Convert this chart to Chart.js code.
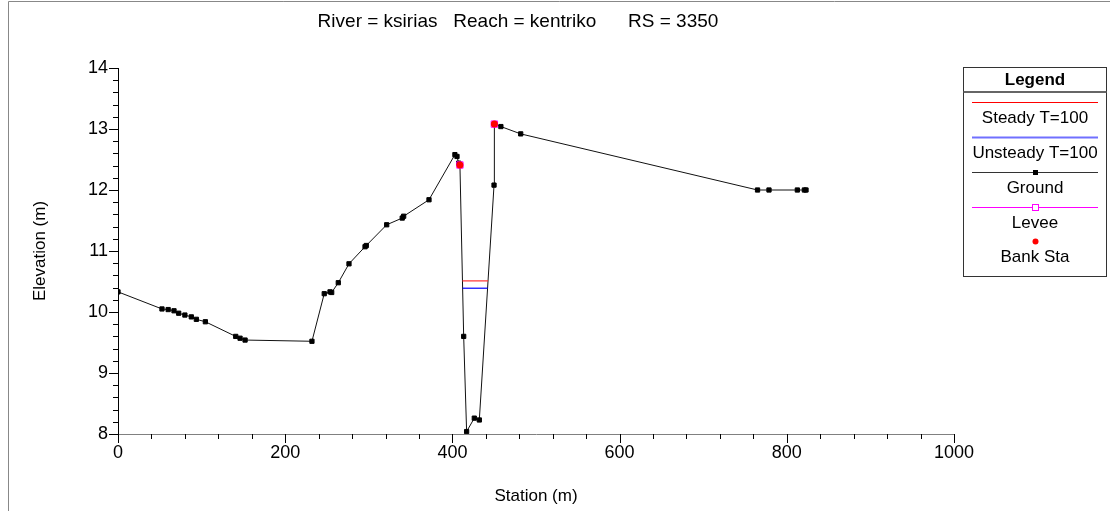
<!DOCTYPE html>
<html>
<head>
<meta charset="utf-8">
<script src="https://cdn.jsdelivr.net/npm/chart.js@4"></script>
<style>
  body { margin: 0; background: #fff; }
  canvas { display: block; }
</style>
</head>
<body>
<canvas id="xs" width="1110" height="511"></canvas>
<script>
// cross section: station (m) against elevation (m)
let groundSta = [0, 52.6, 60, 67, 72.6, 80, 87.7, 93.7, 104.5, 140.8, 146, 152, 232,
    246.7, 253.6, 255.6, 263.5, 276.3, 295.5, 297, 321.4, 340, 341.7, 372,
    403, 405.5, 407.5, 409, 413.5, 417, 426.2, 432.2, 449.8, 450.2, 458, 481.7,
    765, 778.7, 812.6, 821, 823]
let groundElev = [10.33, 10.05, 10.04, 10.02, 9.98, 9.95, 9.92, 9.88, 9.84, 9.60, 9.57, 9.54, 9.52,
    10.30, 10.33, 10.32, 10.48, 10.79, 11.07, 11.09, 11.43, 11.54, 11.57, 11.84,
    12.58, 12.55, 12.44, 12.41, 9.60, 8.04, 8.26, 8.23, 12.08, 13.08, 13.04, 12.92,
    12.0, 12.0, 12.0, 12.0, 12.0]

let bankSta = [409, 450.2]
let bankElev = [12.41, 13.08]

let steadySta = [412.0, 442.6]
let steadyElev = [10.51, 10.51]
let unsteadySta = [412.2, 442.1]
let unsteadyElev = [10.39, 10.39]

let xTicks = [0, 200, 400, 600, 800, 1000]
let yTicks = [8, 9, 10, 11, 12, 13, 14]

let titleText = 'River = ksirias   Reach = kentriko      RS = 3350'
let font = "'Liberation Sans', Arial, sans-serif"
let textSize = 17

function pts(xs, ys) {
    return xs.map((x, i) => ({ x: x, y: ys[i] }))
}

// title, minor/major ticks, legend box and panel frame
let decorations = {
    id: 'decorations',
    afterDraw(chart) {
        let ctx = chart.ctx
        let sx = chart.scales.x, sy = chart.scales.y
        let area = chart.chartArea
        ctx.save()

        ctx.strokeStyle = '#888'
        ctx.lineWidth = 1
        ctx.beginPath()
        ctx.moveTo(8.5, 511)
        ctx.lineTo(8.5, 1.5)
        ctx.lineTo(1110, 1.5)
        ctx.stroke()

        ctx.fillStyle = '#000'
        ctx.font = '19px ' + font
        ctx.textAlign = 'center'
        ctx.textBaseline = 'middle'
        ctx.fillText(titleText, 518, 22)

        ctx.strokeStyle = '#000'
        ctx.beginPath()
        let xMajor = xTicks[1] - xTicks[0]
        for (let v = xTicks[0]; v <= xTicks[xTicks.length - 1] + 0.001; v += xMajor / 5) {
            let px = Math.round(sx.getPixelForValue(v)) + 0.5
            let major = Math.abs(v / xMajor - Math.round(v / xMajor)) < 1e-6
            ctx.moveTo(px, area.bottom)
            ctx.lineTo(px, area.bottom + (major ? 9 : 5))
        }
        let yMajor = yTicks[1] - yTicks[0]
        for (let v = yTicks[0]; v <= yTicks[yTicks.length - 1] + 0.001; v += yMajor / 5) {
            let py = Math.round(sy.getPixelForValue(v)) + 0.5
            let major = Math.abs(v / yMajor - Math.round(v / yMajor)) < 1e-6
            ctx.moveTo(area.left, py)
            ctx.lineTo(area.left - (major ? 9 : 5), py)
        }
        ctx.stroke()

        // legend
        let lx = 963.5, ly = 67.5, lw = 143, lh = 209
        ctx.fillStyle = '#fff'
        ctx.fillRect(lx, ly, lw, lh)
        ctx.strokeStyle = '#333'
        ctx.strokeRect(lx, ly, lw, lh)
        ctx.strokeStyle = '#666'
        ctx.lineWidth = 2
        ctx.beginPath()
        ctx.moveTo(lx, 92)
        ctx.lineTo(lx + lw, 92)
        ctx.stroke()
        ctx.fillStyle = '#000'
        ctx.font = 'bold ' + textSize + 'px ' + font
        ctx.fillText('Legend', 1035, 80)

        let cx = 1035, x0 = 972, x1 = 1098
        let entries = [
            { label: 'Steady T=100', color: '#ff0000', line: true, y: 102 },
            { label: 'Unsteady T=100', color: '#7070ff', line: true, y: 137, width: 2 },
            { label: 'Ground', color: '#333', line: true, marker: 'square', y: 172 },
            { label: 'Levee', color: '#ff00ff', line: true, marker: 'open', y: 207 },
            { label: 'Bank Sta', color: '#ff0000', line: false, marker: 'dot', y: 241 }
        ]
        ctx.font = textSize + 'px ' + font
        entries.forEach(e => {
            if (e.line) {
                ctx.strokeStyle = e.color
                ctx.lineWidth = e.width || 1
                ctx.beginPath()
                ctx.moveTo(x0, e.y + 0.5)
                ctx.lineTo(x1, e.y + 0.5)
                ctx.stroke()
            }
            if (e.marker === 'square') {
                ctx.fillStyle = '#000'
                ctx.fillRect(cx - 2, e.y - 2, 5, 5)
            } else if (e.marker === 'open') {
                ctx.fillStyle = '#fff'
                ctx.fillRect(cx - 2.5, e.y - 2.5, 6, 6)
                ctx.strokeStyle = e.color
                ctx.lineWidth = 1
                ctx.strokeRect(cx - 2.5, e.y - 2.5, 6, 6)
            } else if (e.marker === 'dot') {
                ctx.fillStyle = e.color
                ctx.beginPath()
                ctx.arc(cx + 0.5, e.y + 0.5, 3, 0, Math.PI * 2)
                ctx.fill()
            }
            ctx.fillStyle = '#000'
            ctx.fillText(e.label, cx, e.y + 16)
        })

        ctx.restore()
    }
}

new Chart(document.getElementById('xs').getContext('2d'), {
    type: 'scatter',
    data: {
        datasets: [{
            label: 'Bank Sta',
            data: pts(bankSta, bankElev),
            order: 0,
            showLine: false,
            pointStyle: 'circle',
            pointRadius: 3.5,
            pointBackgroundColor: '#ff0000',
            pointBorderColor: '#ff0000',
            pointBorderWidth: 0
        }, {
            label: 'Levee',
            data: pts(bankSta, bankElev),
            order: 1,
            showLine: false,
            pointStyle: 'rect',
            pointRadius: 4.5,
            pointBackgroundColor: 'rgba(255,0,255,0)',
            pointBorderColor: '#ff00ff',
            pointBorderWidth: 1
        }, {
            label: 'Steady T=100',
            data: pts(steadySta, steadyElev),
            order: 2,
            showLine: true,
            borderColor: '#ff3030',
            borderWidth: 1.2,
            pointRadius: 0
        }, {
            label: 'Unsteady T=100',
            data: pts(unsteadySta, unsteadyElev),
            order: 3,
            showLine: true,
            borderColor: '#0000ff',
            borderWidth: 1.2,
            pointRadius: 0
        }, {
            label: 'Ground',
            data: pts(groundSta, groundElev),
            order: 4,
            showLine: true,
            borderColor: '#111',
            borderWidth: 1,
            pointStyle: 'rect',
            pointRadius: 3,
            pointBackgroundColor: '#000',
            pointBorderColor: '#000',
            pointBorderWidth: 1
        }]
    },
    options: {
        responsive: false,
        animation: false,
        layout: { padding: { left: 8, right: 156, top: 68, bottom: 0 } },
        plugins: {
            legend: { display: false },
            tooltip: { enabled: false }
        },
        scales: {
            x: {
                type: 'linear',
                min: 0,
                max: 1000,
                afterBuildTicks: s => { s.ticks = xTicks.map(v => ({ value: v })) },
                afterFit: s => { s.height = 77 },
                grid: { display: false, drawTicks: false },
                border: { display: true, color: '#808080', width: 1 },
                ticks: { padding: 8, color: '#000', font: { family: font, size: 18 }, maxRotation: 0, callback: v => String(v) },
                title: { display: true, text: 'Station (m)', color: '#000', font: { family: font, size: textSize }, padding: { top: 0, bottom: 4 } }
            },
            y: {
                type: 'linear',
                min: 8,
                max: 14,
                afterBuildTicks: s => { s.ticks = yTicks.map(v => ({ value: v })) },
                afterFit: s => { s.width = 110 },
                grid: { display: false, drawTicks: false },
                border: { display: true, color: '#000', width: 1 },
                ticks: { padding: 10, color: '#000', font: { family: font, size: 18 }, callback: v => String(v) },
                title: { display: true, text: 'Elevation (m)', color: '#000', font: { family: font, size: textSize }, padding: { top: 22, bottom: 0 } }
            }
        }
    },
    plugins: [decorations]
})
</script>
</body>
</html>
